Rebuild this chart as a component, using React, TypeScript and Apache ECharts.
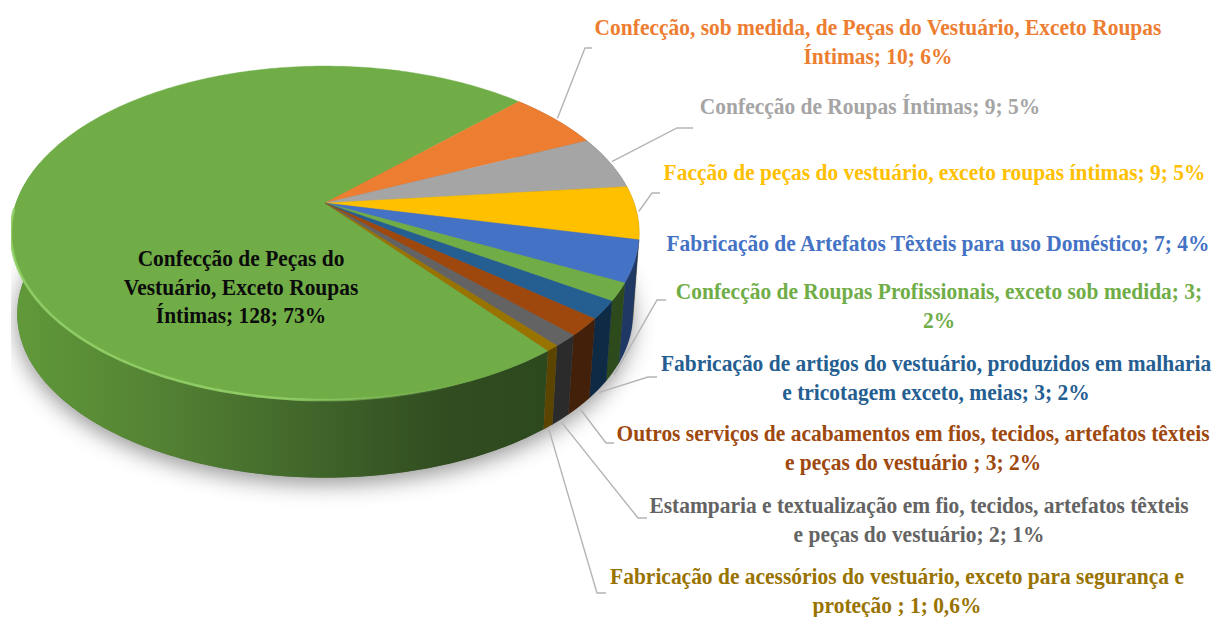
import React, { useEffect, useRef } from "react";
import * as echarts from "echarts";

const values = [128, 10, 9, 9, 7, 3, 3, 3, 2, 1];
const labelTexts = [
  "Confecção de Peças do\nVestuário, Exceto Roupas\nÍntimas; 128; 73%",
  "Confecção, sob medida, de Peças do Vestuário, Exceto Roupas\nÍntimas; 10; 6%",
  "Confecção de Roupas Íntimas; 9; 5%",
  "Facção de peças do vestuário, exceto roupas íntimas; 9; 5%",
  "Fabricação de Artefatos Têxteis para uso Doméstico; 7; 4%",
  "Confecção de Roupas Profissionais, exceto sob medida; 3;\n2%",
  "Fabricação de artigos do vestuário, produzidos em malharia\ne tricotagem exceto, meias; 3; 2%",
  "Outros serviços de acabamentos em fios, tecidos, artefatos têxteis\ne peças do vestuário ; 3; 2%",
  "Estamparia e textualização em fio, tecidos, artefatos têxteis\ne peças do vestuário; 2; 1%",
  "Fabricação de acessórios do vestuário, exceto para segurança e\nproteção ; 1; 0,6%",
];
const topColors = ["#70AD47", "#ED7D31", "#A5A5A5", "#FFC000", "#4472C4", "#70AD47", "#255E91", "#9E480E", "#636363", "#997300"];
const sideColors = ["#41682a", "#8a4a1c", "#5e5e5e", "#8f6c00", "#1f3864", "#2c4a1c", "#0f2a45", "#43200a", "#2b2b2b", "#5a4400"];
const textColors = ["#0b0b0b", "#ED7D31", "#A5A5A5", "#FFC000", "#4472C4", "#70AD47", "#255E91", "#9E480E", "#636363", "#997300"];

// label layout: centre x and centre y of the first line; leader elbow points
const labelStarts = [[241, 258], [878, 27], [870, 106], [934.5, 172], [938, 243], [939, 291], [936, 363], [913, 433], [919, 505], [897, 576]];
const LINE_STEP = 28.7;
const leaderElbows: number[][][] = [
  [],
  [[585, 48], [592, 48]],
  [[677, 128], [693, 128]],
  [[652, 193], [660, 193]],
  [],
  [[657, 300], [666, 300]],
  [[648, 377], [657, 377]],
  [[606, 443], [614, 443]],
  [[638, 518], [647, 518]],
  [[597, 593], [606, 593]],
];

const START = 45;
const CX = 325, CY = 203, A = 309, B = 161.6, P = 0.18;
const ELL_CY = 233, BOT_SCALE = 0.98, BOT_SHIFT = 81;
const total = values.reduce((a, b) => a + b, 0);

function rim(deg: number) {
  const t = (deg * Math.PI) / 180;
  const u = Math.sin(t), v = -Math.cos(t), w = 1 - P * v;
  return [CX + (A * u) / w, CY + (B * v) / w];
}
function bottom(p: number[]) {
  return [CX + (p[0] - CX) * BOT_SCALE, (p[1] - ELL_CY) * BOT_SCALE + ELL_CY + BOT_SHIFT];
}
function arc(a0: number, a1: number) {
  const pts: number[][] = [];
  const n = Math.max(2, Math.ceil(Math.abs(a1 - a0)));
  for (let i = 0; i <= n; i++) pts.push(rim(a0 + ((a1 - a0) * i) / n));
  return pts;
}
function range(i: number) {
  let s = START;
  for (let k = 1; k <= i; k++) s += (values[k] / total) * 360;
  return s;
}
// slices 1..9 run clockwise from START; slice 0 fills the rest
function span(i: number): [number, number] {
  if (i === 0) return [range(9), START + 360];
  return [range(i - 1), range(i)];
}

const sideSeries = (params: any) => {
  const i = params.dataIndex;
  const [a0, a1] = span(i);
  const top = arc(a0, i === 0 ? 285 : a1);
  const bot = top.map(bottom).reverse();
  const children: any[] = [];
  if (i === 0) {
    children.push({
      type: "polygon",
      shape: { points: arc(0, 360).map(bottom) },
      style: { fill: "#888", shadowBlur: 22, shadowColor: "rgba(0,0,0,0.42)", shadowOffsetX: 0, shadowOffsetY: 6 },
    });
  }
  const fill =
    i === 0
      ? new (echarts.graphic as any).LinearGradient(
          11, 0, 560, 0,
          [
            { offset: 0, color: "#619a3a" },
            { offset: 0.25, color: "#558434" },
            { offset: 0.55, color: "#40652a" },
            { offset: 0.8, color: "#304c20" },
            { offset: 1, color: "#2c481d" },
          ],
          true
        )
      : sideColors[i];
  children.push({ type: "polygon", shape: { points: top.concat(bot) }, style: { fill, stroke: i === 0 ? undefined : fill, lineWidth: 0.3 } });
  return { type: "group", children };
};

const topSeries = (params: any) => {
  const i = params.dataIndex;
  const [a0, a1] = span(i);
  const children: any[] = [
    {
      type: "polygon",
      shape: { points: [[CX, CY], ...arc(a0, a1)] },
      style: { fill: topColors[i], stroke: topColors[i], lineWidth: 0.4 },
    },
  ];
  if (i === 0) {
    children.push({
      type: "polyline",
      shape: { points: arc(a0 + 4, 268) },
      style: {
        fill: "none",
        lineWidth: 2.6,
        stroke: new (echarts.graphic as any).LinearGradient(
          11, 0, 460, 0,
          [
            { offset: 0, color: "rgba(146,208,104,0.9)" },
            { offset: 0.6, color: "rgba(146,208,104,0.9)" },
            { offset: 1, color: "rgba(146,208,104,0)" },
          ],
          true
        ),
      },
    });
  }
  return { type: "group", children };
};

const labelSeries = (params: any) => {
  const i = params.dataIndex;
  const [a0, a1] = span(i);
  const children: any[] = [];
  const elbow = leaderElbows[i];
  if (elbow.length) {
    const mid = rim((a0 + a1) / 2);
    const start = i <= 3 ? [mid[0] + 2, mid[1] - 1] : (() => { const b = bottom(mid); return [b[0] + 1, b[1] + 3]; })();
    children.push({
      type: "polyline",
      shape: { points: [start, ...elbow] },
      style: { fill: "none", stroke: "#b4b4b4", lineWidth: 1.4 },
    });
  }
  labelTexts[i].split("\n").forEach((line, k) => {
    children.push({
      type: "text",
      x: labelStarts[i][0],
      y: labelStarts[i][1] + k * LINE_STEP,
      scaleX: 0.913,
      style: {
        text: line,
        fill: textColors[i],
        font: 'bold 23.5px "Liberation Serif"',
        align: "center",
        verticalAlign: "middle",
      },
    });
  });
  return { type: "group", children };
};

export default function App() {
  const ref = useRef<HTMLDivElement>(null);
  useEffect(() => {
    const chart = echarts.init(ref.current!, null, { renderer: "svg" });
    const data = values.map((v, i) => ({ name: labelTexts[i], value: v }));
    chart.setOption({
      animation: false,
      backgroundColor: "#ffffff",
      graphic: [{ type: "rect", z: 5, shape: { x: 0, y: 0, width: 11, height: 617 }, style: { fill: "#ffffff" } }],
      series: [
        { type: "custom", coordinateSystem: "none", z: 1, silent: true, data, renderItem: sideSeries },
        { type: "custom", coordinateSystem: "none", z: 2, silent: true, data, renderItem: topSeries },
        { type: "custom", coordinateSystem: "none", z: 3, silent: true, data, renderItem: labelSeries },
      ],
    });
    return () => chart.dispose();
  }, []);
  return <div ref={ref} style={{ position: "fixed", left: 0, top: 0, width: 1212, height: 617 }} />;
}
